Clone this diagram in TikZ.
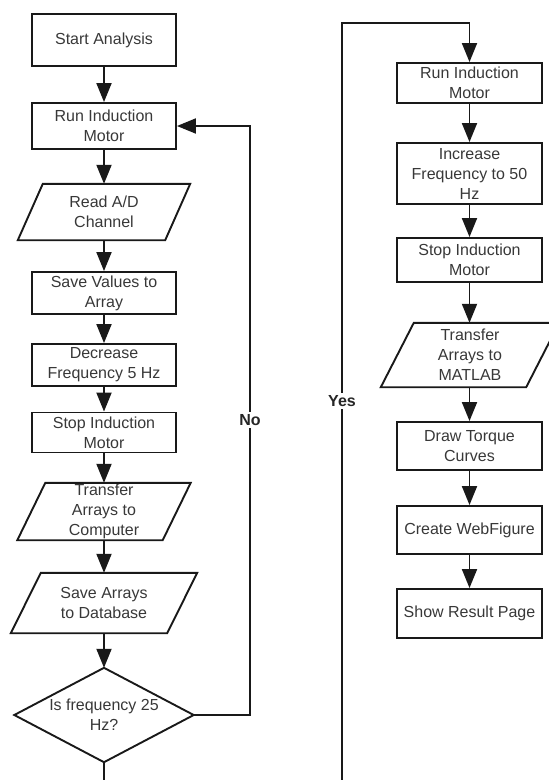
\documentclass[tikz,border=0pt]{standalone}
\usepackage{fontspec}
\setmainfont{Liberation Sans}
\usetikzlibrary{arrows.meta}
\newcommand\myshapepara[3]{% node name, half offset, draw style
  \draw[shapeline] ([xshift=-#2]#1.south west) -- ([xshift=-#2]#1.south east)
    -- ([xshift=#2]#1.north east) -- ([xshift=#2]#1.north west) -- cycle;}
\begin{document}
\begin{tikzpicture}[x=1pt,y=-1pt,
  shapeline/.style={line width=1.9pt, line join=miter, draw=black!90},
  txt/.style={align=center, inner sep=0pt, text=black!78, font=\fontsize{16}{20}\selectfont},
  box/.style={txt, draw=black!90, line width=1.9pt, minimum width=144pt},
  ptext/.style={txt, minimum width=147pt},
  conn/.style={line width=1.9pt, draw=black!90, -{Triangle[length=19pt,width=15pt]}},
  line/.style={line width=1.9pt, draw=black!90},
  lbl/.style={fill=white, inner sep=2pt, text=black!85, font=\bfseries\fontsize{16}{20}\selectfont}]
\useasboundingbox (0,0) rectangle (549,780);
% left column
\node[box, minimum height=52pt] (start) at (104,40) {Start Analysis};
\node[box, minimum height=46pt] (run1) at (104,126) {Run Induction\\Motor};
\node[ptext, minimum height=56pt] (read) at (104,212) {Read A/D\\Channel};
\myshapepara{read}{12.5pt}{}
\node[box, minimum height=42pt] (savev) at (104,293) {Save Values to\\Array};
\node[box, minimum height=42pt] (dec) at (104,365) {Decrease\\Frequency 5 Hz};
\node[box, minimum height=40pt] (stop1) at (104,432.5) {Stop Induction\\Motor};
\node[ptext, minimum height=57pt, minimum width=145pt] (trans1) at (104,511.5) {Transfer\\Arrays to\\Computer};
\myshapepara{trans1}{14pt}{}
\node[ptext, minimum height=60pt, minimum width=156pt] (savea) at (104,603) {Save Arrays\\to Database};
\myshapepara{savea}{15pt}{}
\node[txt, minimum width=179pt, minimum height=94pt] (dia) at (104,715) {Is frequency 25\\Hz?};
\draw[shapeline] (dia.north) -- (dia.east) -- (dia.south) -- (dia.west) -- cycle;
% right column
\node[box, minimum height=40pt, minimum width=145pt] (run2) at (469.5,83) {Run Induction\\Motor};
\node[box, minimum height=61pt, minimum width=145pt] (inc) at (469.5,173.5) {Increase\\Frequency to 50\\Hz};
\node[box, minimum height=44pt, minimum width=145pt] (stop2) at (469.5,260) {Stop Induction\\Motor};
\node[ptext, minimum height=64pt, minimum width=145pt] (matlab) at (470,355) {Transfer\\Arrays to\\MATLAB};
\myshapepara{matlab}{16.5pt}{}
\node[box, minimum height=48pt, minimum width=145pt] (draw) at (469.5,446) {Draw Torque\\Curves};
\node[box, minimum height=48pt, minimum width=145pt] (create) at (469.5,530) {Create WebFigure};
\node[box, minimum height=49pt, minimum width=145pt] (show) at (469.5,613.5) {Show Result Page};
% connectors left
\draw[conn] (start) -- (run1);
\draw[conn] (run1) -- (read);
\draw[conn] (read) -- (savev);
\draw[conn] (savev) -- (dec);
\draw[conn] (dec) -- (stop1);
\draw[conn] (stop1) -- (trans1);
\draw[conn] (trans1) -- (savea);
\draw[conn] (savea) -- (dia);
\coordinate (nocorner) at (250,715);
\draw[conn] (dia.east) -- (nocorner) |- (run1.east);
\node[lbl] (no) at (250,420) {No};
% yes branch
\coordinate (leftend) at (104,780);
\coordinate (yesend) at (342,780);
\coordinate (yestop) at (342,23);
\draw[line] (dia.south) -- (leftend);
\draw[conn] (yesend) -- (yestop) -| (run2.north);
\node[lbl] (yes) at (342,401) {Yes};
% connectors right
\draw[conn] (run2) -- (inc);
\draw[conn] (inc) -- (stop2);
\draw[conn] (stop2) -- (matlab.north -| stop2.south);
\draw[conn] (matlab.south -| draw.north) -- (draw);
\draw[conn] (draw) -- (create);
\draw[conn] (create) -- (show);
\end{tikzpicture}
\end{document}
